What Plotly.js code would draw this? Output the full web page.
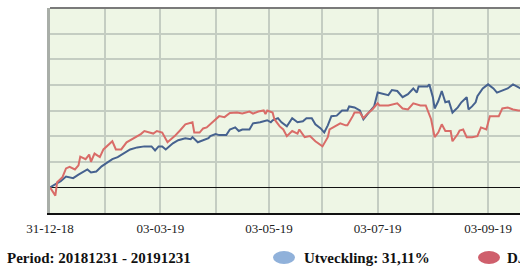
<!DOCTYPE html>
<html>
<head>
<meta charset="utf-8">
<script src="https://cdn.plot.ly/plotly-3.0.1.min.js"></script>
<style>
html,body{margin:0;padding:0;overflow:hidden;background:#fff;width:520px;height:272px;}
#chart{width:720px;height:272px;}
</style>
</head>
<body>
<div id="chart"></div>
<script>
// ---- data ----
const blueDates = ['2018-12-31','2019-01-03','2019-01-06','2019-01-09','2019-01-13','2019-01-16','2019-01-19','2019-01-21','2019-01-23','2019-01-26','2019-01-29',
'2019-02-02','2019-02-04','2019-02-07','2019-02-10','2019-02-14','2019-02-18','2019-02-22','2019-02-26','2019-02-28','2019-03-02','2019-03-04','2019-03-06',
'2019-03-10','2019-03-13','2019-03-17','2019-03-20','2019-03-21','2019-03-24','2019-03-27','2019-03-30','2019-03-31','2019-04-03','2019-04-05','2019-04-09',
'2019-04-11','2019-04-14','2019-04-16','2019-04-18','2019-04-22','2019-04-24','2019-04-28','2019-05-02','2019-05-04','2019-05-05','2019-05-08','2019-05-10',
'2019-05-13','2019-05-16','2019-05-19','2019-05-22','2019-05-24','2019-05-27','2019-05-29','2019-06-01','2019-06-03','2019-06-05','2019-06-07','2019-06-10',
'2019-06-13','2019-06-16','2019-06-17','2019-06-20','2019-06-23','2019-06-25','2019-06-28','2019-07-01','2019-07-03','2019-07-05','2019-07-09','2019-07-11',
'2019-07-14','2019-07-17','2019-07-20','2019-07-23','2019-07-25','2019-07-26','2019-07-29','2019-07-31','2019-08-01','2019-08-03','2019-08-04','2019-08-06',
'2019-08-08','2019-08-10','2019-08-12','2019-08-14','2019-08-17','2019-08-19','2019-08-22','2019-08-23','2019-08-25','2019-08-27','2019-08-28','2019-08-31',
'2019-09-03','2019-09-06','2019-09-08','2019-09-12','2019-09-14','2019-09-17','2019-09-20','2019-09-23'];
const blueValues = [0,0.6,1.2,2.1,1.8,2.5,3.1,3.5,2.9,3.1,4.1,
5.0,5.5,5.9,6.6,7.4,7.8,8.0,8.0,7.2,8.0,8.0,7.4,
8.6,9.2,9.6,9.4,9.8,8.8,9.2,9.6,10.0,10.4,10.2,10.2,
11.3,11.7,11.0,11.3,11.3,12.5,12.7,13.1,12.7,13.1,13.5,12.7,
11.9,13.5,12.7,12.9,13.5,13.5,12.3,11.5,10.7,12.1,13.9,14.0,
15.0,15.0,15.8,15.6,15.0,13.3,14.6,15.8,18.5,18.3,18.0,19.0,
18.8,17.6,18.2,19.3,18.5,19.7,19.7,19.7,20.1,17.6,15.4,16.8,
18.8,16.6,16.8,14.6,15.6,16.6,17.6,15.2,15.8,16.6,17.8,19.3,
20.1,19.3,18.5,19.0,19.3,20.1,19.5,19.0];

const redDates = ['2018-12-31','2019-01-03','2019-01-04','2019-01-07','2019-01-09','2019-01-11','2019-01-14','2019-01-16','2019-01-17','2019-01-20','2019-01-22',
'2019-01-23','2019-01-25','2019-01-28','2019-01-30','2019-02-01','2019-02-04','2019-02-06','2019-02-09','2019-02-12','2019-02-16','2019-02-20','2019-02-22',
'2019-02-27','2019-03-01','2019-03-04','2019-03-07','2019-03-11','2019-03-14','2019-03-17','2019-03-21','2019-03-22','2019-03-25','2019-03-27','2019-03-29',
'2019-03-31','2019-04-03','2019-04-05','2019-04-08','2019-04-11','2019-04-15','2019-04-18','2019-04-22','2019-04-24','2019-04-27','2019-04-30','2019-05-01',
'2019-05-02','2019-05-05','2019-05-06','2019-05-09','2019-05-11','2019-05-13','2019-05-16','2019-05-19','2019-05-20','2019-05-23','2019-05-26','2019-05-29',
'2019-06-01','2019-06-02','2019-06-05','2019-06-06','2019-06-09','2019-06-12','2019-06-15','2019-06-16','2019-06-19','2019-06-20','2019-06-23','2019-06-25',
'2019-06-27','2019-06-30','2019-07-03','2019-07-04','2019-07-09','2019-07-14','2019-07-17','2019-07-20','2019-07-23','2019-07-27','2019-07-30','2019-08-02',
'2019-08-04','2019-08-06','2019-08-08','2019-08-10','2019-08-13','2019-08-14','2019-08-17','2019-08-18','2019-08-20','2019-08-22','2019-08-25','2019-08-28',
'2019-08-30','2019-09-02','2019-09-04','2019-09-09','2019-09-11','2019-09-14','2019-09-17','2019-09-20','2019-09-23'];
const redValues = [0,-1.6,1.0,2.0,3.7,4.0,3.5,4.3,6.0,5.5,6.4,
5.0,6.6,5.9,7.4,8.0,9.0,7.4,7.4,8.8,9.6,10.4,11.0,
10.5,11.0,10.7,8.8,10.0,11.1,12.3,12.7,10.7,10.7,11.5,11.7,
12.3,13.3,13.9,13.7,14.5,14.6,14.4,14.8,14.4,14.8,15.0,14.3,
15.0,14.6,13.3,11.9,11.3,10.0,11.0,10.5,11.3,9.8,10.0,9.0,
8.2,8.0,9.8,11.3,11.9,12.5,12.1,12.1,13.9,14.6,14.6,13.5,
14.3,15.2,16.4,16.0,16.0,16.4,15.4,15.2,16.4,16.0,16.0,13.3,
9.8,10.7,12.3,11.0,11.0,9.0,10.4,11.1,11.3,9.8,9.8,10.0,
11.7,11.3,13.9,13.9,15.4,15.6,15.2,15.0,15.0];

const tickDates = ['2018-12-31','2019-01-31','2019-03-03','2019-04-03','2019-05-03','2019-06-02','2019-07-03','2019-08-03','2019-09-03','2019-10-03','2019-11-03','2019-12-03'];
const tickLabels = ['31-12-18','','03-03-19','','03-05-19','','03-07-19','','03-09-19','','',''];

const periodText = 'Period: 20181231 - 20191231';
const seriesNames = ['Utveckling: 31,11%','DJ: 22,34%'];

// ---- layout helpers ----
const W = 720, H = 272, L = 50, R = 20, T = 8, B = 59;
const pw = W - L - R, ph = H - T - B;
const px = x => (x - L) / pw;
const py = y => (H - B - y) / ph;

const blue = '#46628f', red = '#d96c68';
const serif = 'Liberation Serif, Times New Roman, serif';

const traces = [
  {x: blueDates, y: blueValues, type: 'scatter', mode: 'lines', line: {color: blue, width: 2}, hoverinfo: 'skip'},
  {x: redDates, y: redValues, type: 'scatter', mode: 'lines', line: {color: red, width: 2}, hoverinfo: 'skip'}
];

const layout = {
  width: W, height: H,
  margin: {l: L, r: R, t: T, b: B, pad: 0},
  paper_bgcolor: '#ffffff',
  plot_bgcolor: '#eef6e5',
  showlegend: false,
  xaxis: {
    type: 'date',
    range: ['2018-12-31', '2019-12-31'],
    tickmode: 'array', tickvals: tickDates, ticktext: tickLabels,
    showgrid: true, gridcolor: '#c4cdc2', gridwidth: 2,
    showline: true, linecolor: '#111111', linewidth: 2,
    ticks: '', zeroline: false, ticklabelstandoff: 2,
    tickfont: {family: serif, size: 13, color: '#222'}
  },
  yaxis: {
    range: [-5, 35], dtick: 5, tick0: 0,
    showticklabels: false, ticks: '',
    showgrid: true, gridcolor: '#c4cdc2', gridwidth: 2,
    zeroline: true, zerolinecolor: '#111111', zerolinewidth: 1.5,
    showline: true, linecolor: '#a9aea8', linewidth: 3
  },
  shapes: [
    {type: 'line', xref: 'paper', yref: 'paper', x0: 0, x1: 1, y0: 1, y1: 1, line: {color: '#7a7a7a', width: 2}},
    {type: 'circle', xref: 'paper', yref: 'paper', x0: px(273), x1: px(295), y0: py(251), y1: py(264), fillcolor: '#90b1da', line: {width: 0}},
    {type: 'circle', xref: 'paper', yref: 'paper', x0: px(478), x1: px(500), y0: py(251), y1: py(264), fillcolor: '#cf5f6c', line: {width: 0}}
  ],
  annotations: [
    {text: '<b>' + periodText + '</b>', xref: 'paper', yref: 'paper', x: px(5), y: py(258), xanchor: 'left', yanchor: 'middle', showarrow: false, font: {family: serif, size: 15, color: '#111'}},
    {text: '<b>' + seriesNames[0] + '</b>', xref: 'paper', yref: 'paper', x: px(302), y: py(258), xanchor: 'left', yanchor: 'middle', showarrow: false, font: {family: serif, size: 15, color: '#111'}},
    {text: '<b>' + seriesNames[1] + '</b>', xref: 'paper', yref: 'paper', x: px(505), y: py(258), xanchor: 'left', yanchor: 'middle', showarrow: false, font: {family: serif, size: 15, color: '#111'}}
  ]
};

Plotly.newPlot('chart', traces, layout, {staticPlot: true, displayModeBar: false});
</script>
</body>
</html>
